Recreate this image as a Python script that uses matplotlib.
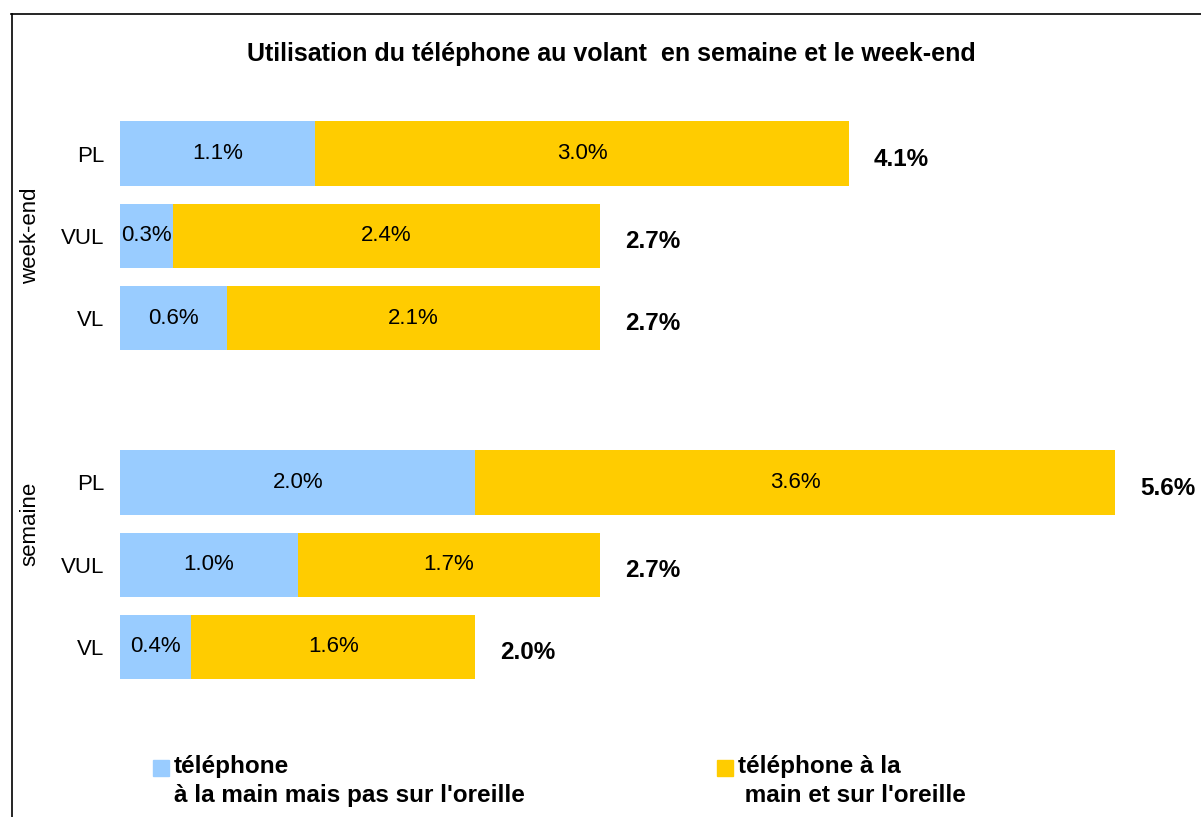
import matplotlib
matplotlib.use("Agg")
import matplotlib.pyplot as plt
from matplotlib.patches import Rectangle
from matplotlib.lines import Line2D

plt.rcParams['font.family'] = ['Liberation Sans', 'DejaVu Sans']

# Data
groups = ["week-end", "semaine"]
categories = ["PL", "VUL", "VL"]
main_pas_oreille = {"week-end": [1.1, 0.3, 0.6], "semaine": [2.0, 1.0, 0.4]}
main_oreille = {"week-end": [3.0, 2.4, 2.1], "semaine": [3.6, 1.7, 1.6]}
series_labels = [["téléphone", "à la main mais pas sur l'oreille"],
                 ["téléphone à la", " main et sur l'oreille"]]
title = "Utilisation du téléphone au volant  en semaine et le week-end"

c_blue = "#99CCFF"
c_yellow = "#FFCC00"

W, H = 1201, 817
fig = plt.figure(figsize=(W / 100, H / 100), dpi=100)

def fy(y):
    return 1 - y / H

# axes placed in pixel coordinates
ax_left, ax_right, ax_top, ax_bottom = 120, 1200, 100, 700
ax = fig.add_axes([ax_left / W, 1 - ax_bottom / H,
                   (ax_right - ax_left) / W, (ax_bottom - ax_top) / H])
px_per_unit = 177.7
ax.set_xlim(0, (ax_right - ax_left) / px_per_unit)
y_px_unit = 82.25
y0_px = 153.5
ax.set_ylim((ax_bottom - y0_px) / y_px_unit, (ax_top - y0_px) / y_px_unit)

group_label_shift = [0.0, -0.5]

ypos, ylabels = [], []
pos = 0
for gi, g in enumerate(groups):
    gpos = []
    for i, cat in enumerate(categories):
        a = main_pas_oreille[g][i]
        b = main_oreille[g][i]
        ax.barh(pos, a, height=0.78, color=c_blue, edgecolor='none')
        ax.barh(pos, b, left=a, height=0.78, color=c_yellow, edgecolor='none')
        ax.text(a / 2, pos, f"{a:.1f}%", ha='center', va='center', fontsize=16)
        ax.text(a + b / 2, pos, f"{b:.1f}%", ha='center', va='center', fontsize=16)
        tot = a + b
        ax.text(tot + 0.14, pos + 0.07, f"{tot:.1f}%", ha='left', va='center',
                fontsize=17.5, fontweight='bold')
        ypos.append(pos)
        ylabels.append(cat)
        gpos.append(pos)
        pos += 1
    ax.text(-0.505, sum(gpos) / len(gpos) + group_label_shift[gi], g,
            rotation=90, ha='center', va='center', fontsize=16)
    pos += 1

ax.set_yticks(ypos)
ax.set_yticklabels(ylabels, fontsize=16)
ax.tick_params(axis='y', length=0, pad=11.5)
ax.set_xticks([])
for s in ax.spines.values():
    s.set_visible(False)

fig.text(611.5 / W, fy(61), title, ha='center', va='baseline',
         fontsize=18, fontweight='bold')

# legend
fig.patches.append(Rectangle((153 / W, fy(776)), 16 / W, 16 / H, color=c_blue,
                             transform=fig.transFigure))
fig.patches.append(Rectangle((717 / W, fy(776)), 16 / W, 16 / H, color=c_yellow,
                             transform=fig.transFigure))
for (x0, lines) in zip([174, 738], series_labels):
    fig.text(x0 / W, fy(773), lines[0], ha='left', va='baseline',
             fontsize=17.5, fontweight='bold')
    fig.text(x0 / W, fy(802), lines[1], ha='left', va='baseline',
             fontsize=17.5, fontweight='bold')

# frame lines
fig.add_artist(Line2D([11 / W, 1], [fy(14), fy(14)], color='black', lw=1.2,
                      transform=fig.transFigure))
fig.add_artist(Line2D([12 / W, 12 / W], [0, fy(14)], color='black', lw=1.2,
                      transform=fig.transFigure))

fig.savefig("out.png", dpi=100)
